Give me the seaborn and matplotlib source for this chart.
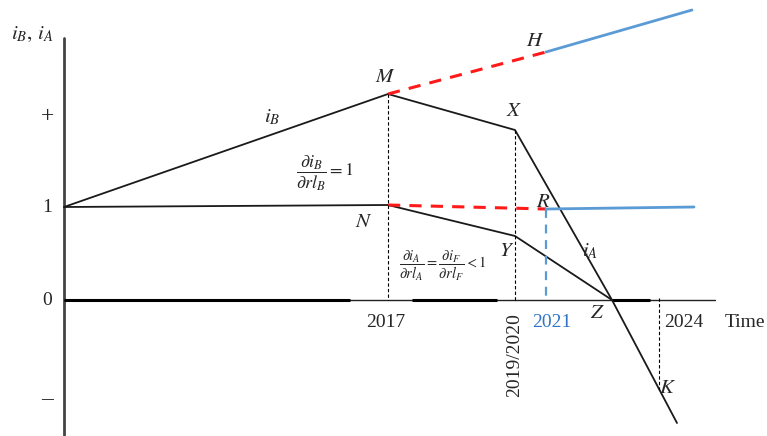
import matplotlib
matplotlib.use("Agg")
import matplotlib.pyplot as plt
import seaborn as sns
import pandas as pd

# schematic coordinates (x: time position, y: level, pixel-like units, y grows downward)
ib_x = [64, 388, 515, 612, 677]       # i_B path: start, M, X, Z, end
ib_y = [207, 94, 130, 300, 423]
ia_x = [64, 388, 515, 612]            # i_A path: start, N, Y, Z
ia_y = [207, 205, 236, 300]
red_up_x = [388, 546]                 # M -> H
red_up_y = [94, 52]
red_lo_x = [388, 546]                 # N -> R
red_lo_y = [205, 209]
blue_up_x = [546, 692]
blue_up_y = [52, 10]
blue_lo_x = [546, 694]
blue_lo_y = [209, 207]

tick_years = ["2017", "2019/2020", "2021", "2024"]
tick_x = [388, 515, 546, 659]
tick_top = [94, 130, 209, 390]
level_labels = ["+", "1", "0", "\u2013"]
level_y = [117, 207, 300, 400]

sns.set_theme(style="white")
plt.rcParams["mathtext.fontset"] = "stix"
plt.rcParams["font.family"] = ["Liberation Serif", "DejaVu Serif"]

fig = plt.figure(figsize=(7.67, 4.36), dpi=100)
ax = fig.add_axes([0, 0, 1, 1])
ax.set_xlim(0, 767)
ax.set_ylim(436, 0)
ax.axis("off")

# axes of the schematic
ax.plot([64, 64], [38, 435], color="#444444", lw=2)
ax.plot([64, 715], [300, 300], color="#222222", lw=1)
for a, b in [(64, 350), (412, 497), (612, 650)]:
    ax.plot([a, b], [300, 300], color="black", lw=2.2, solid_capstyle="butt")

# main lines
df_b = pd.DataFrame({"x": ib_x, "y": ib_y})
df_a = pd.DataFrame({"x": ia_x, "y": ia_y})
sns.lineplot(data=df_b, x="x", y="y", sort=False, estimator=None, color="#1a1a1a", lw=1.3, ax=ax)
sns.lineplot(data=df_a, x="x", y="y", sort=False, estimator=None, color="#1a1a1a", lw=1.3, ax=ax)

ax.plot(red_up_x, red_up_y, color="#ff1a1a", lw=2.2, dashes=(4, 3))
ax.plot(red_lo_x, red_lo_y, color="#ff1a1a", lw=2.2, dashes=(4, 3))
ax.plot(blue_up_x, blue_up_y, color="#5b9bd5", lw=2)
ax.plot(blue_lo_x, blue_lo_y, color="#5b9bd5", lw=2)
ax.plot([546, 546], [209, 300], color="#5b9bd5", lw=1.6, dashes=(4, 3))

# thin dashed guides
for x, top in zip(tick_x, tick_top):
    if x == 546:
        continue
    lo = 298 if x == 659 else top
    ax.plot([x, x], [lo, 300 if x != 659 else top], color="black", lw=0.8, dashes=(3, 2))

# labels
for lab, y in zip(level_labels, level_y):
    ax.text(47, y, lab, ha="center", va="center", fontsize=14 if lab in "10" else 17)

ax.text(32, 34, r"$i_B,\, i_A$", ha="center", va="center", fontsize=15)
ax.text(386, 322, "2017", ha="center", va="center", fontsize=14)
ax.text(515, 355, "2019/2020", ha="center", va="center", fontsize=14, rotation=90)
ax.text(552, 322, "2021", ha="center", va="center", fontsize=14, color="#2e75c6")
ax.text(684, 322, "2024", ha="center", va="center", fontsize=14)
ax.text(745, 322, "Time", ha="center", va="center", fontsize=14)

points = {"M": (385, 77), "H": (535, 42), "X": (514, 111), "R": (543, 202),
          "N": (364, 222), "Y": (507, 251), "Z": (597, 313), "K": (668, 388)}
for k, (x, y) in points.items():
    ax.text(x, y, "$" + k + "$", ha="center", va="center", fontsize=15)

ax.text(272, 117, r"$i_B$", ha="center", va="center", fontsize=15)
ax.text(590, 251, r"$i_A$", ha="center", va="center", fontsize=15)
ax.text(325, 173, r"$\dfrac{\partial i_B}{\partial rl_B}=1$", ha="center", va="center", fontsize=13)
ax.text(443, 266, r"$\dfrac{\partial i_A}{\partial rl_A}=\dfrac{\partial i_F}{\partial rl_F}<1$",
        ha="center", va="center", fontsize=10.5)

fig.savefig("out.png", dpi=100)
